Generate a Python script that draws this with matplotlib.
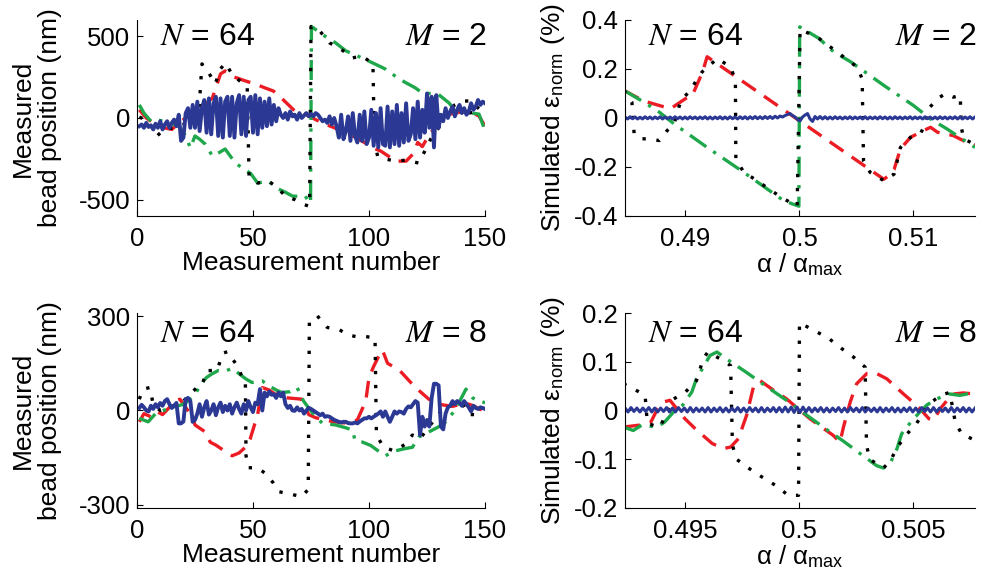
import numpy as np
import matplotlib
matplotlib.use('Agg')
import matplotlib.pyplot as plt

plt.rcParams['font.family'] = ['Liberation Sans', 'DejaVu Sans']
plt.rcParams['mathtext.fontset'] = 'stix'
plt.rcParams['axes.unicode_minus'] = False

RED = '#ec1c24'
GREEN = '#1ea84b'
BLUE = '#2b3994'

# ---------------- measured, M = 2 ----------------
meas_n = np.arange(1, 151)

red_m2_x = [1, 4, 8, 12, 15, 19, 22, 26, 30, 32.5, 36, 38, 42, 46.7, 51, 55, 58.8, 62.7, 68, 72.6,
            77, 81, 88.6, 93, 98, 101.6, 105, 108, 111.5, 116, 119, 121, 123, 126, 129, 132, 135,
            139, 143, 147.4, 150]
red_m2_y = [50, 0, -40, -61, -70, -20, 10, 30, 92, 122, 270, 288, 250, 227, 208, 185, 165, 116, 43, 24,
            -10, -37, -80, -110, -150, -183, -202, -230, -264, -264, -220, -150, -175, -100, -50, 12, 24,
            35, 43, 12, -50]

green_m2_x = [1, 3, 6, 10, 14, 18, 21, 23, 25, 27, 29.4, 32.5, 35, 38, 42.4, 45.4, 49, 52, 56.6, 61,
              64, 67, 70, 72.6, 74, 74.8, 75.2, 76, 80, 85.6, 90, 95, 101.6, 107, 113, 116, 120, 123,
              126, 129.7, 134.5, 136.6, 140, 144, 147.4, 149.6]
green_m2_y = [80, 30, -20, -15, -30, -50, -110, -183, -110, -130, -160, -233, -215, -190, -276, -306,
              -340, -398, -386, -435, -455, -478, -480, -478, -515, -520, 560, 552, 510, 460, 411, 380,
              337, 300, 239, 215, 184, 153, 150, 147, 92, 55, 40, 30, 24, -61]

black_m2_x = [1, 4.8, 8.6, 12, 16, 20, 24, 26.5, 28, 30, 33.7, 36, 38, 41.5, 45, 47.5, 48.3, 52,
              56.6, 60, 64, 68, 71, 74.4, 75, 78, 83, 88, 93, 97, 101.7, 102.3, 103.7, 107, 111.5,
              116, 121.4, 124.5, 126.6, 130, 133, 137, 140.5, 143, 144, 147.4, 150]
black_m2_y = [6, -18, -110, -67, -60, -40, -20, 0, 331, 300, 208, 300, 337, 257, 220, 196, -355, -398,
              -386, -420, -478, -500, -527, -540, 560, 546, 460, 420, 368, 380, 331, -141, -233, -251,
              -264, -258, -276, -190, -129, -60, 31, 80, 104, 104, 12, 74, 80]

blue_m2 = [-50, -40, -60, -30, -55, -45, -70, -35, -60, -20, -70, -40, -20, -60, -30, -10, -50,
           20, -140, -120, 30, 60, -60,
           80, -60, 100, -80, 60, 110, -90, 120, -100, 90, 130, -110, 120, -120, 100,
           130, -110, 130, -120, 90, 140, -100, 130, -110, 110, 130, -90, 140, -100, 120,
           -60, 100, -50, 120, -40, 80, -20, 60,
           20, 0, 30, -10, 40, 10, 20, -10, 30, 0, 15, 30, 10, 25,
           10, 30, 20, 0, -20, -10, -30, 10, -40, 0, -50,
           -120, 20, -130, -80, 10, -140, 30, -110, -150, 20, -140, 40, -160, -120, 50,
           -170, 30, -180, 60, -160, -170, 70, -180, 40, -160, 80, -170, 30, -150, 90,
           -140, -100, 60, -130, 100, -120, 50, -90, 150, -60, 130, -180, 140, -60, 20, -20,
           60, 0, 40, 70, 10, 50, 80, 30, 60, 20, 40, 90, 50, 70, 110, 80, 100, 90]

# ---------------- measured, M = 8 ----------------
red_m8_x = [1, 3, 6, 8.5, 11, 14, 16.4, 18.5, 21, 24, 25, 29.4, 31.6, 34, 36.6, 41, 44, 46.7, 48.8,
            52, 54, 57, 59.6, 65, 71, 74, 77, 84.7, 90, 95, 98.6, 100, 102, 104, 105.8, 108, 110.8,
            113.5, 118, 121, 125.8, 130, 136, 141.4, 145, 148, 150]
red_m8_y = [-36, -10, -20, -3, -13, 10, 30, 36, 10, -23, -46, -68, -101, -110, -123, -144, -135, -117,
            -90, -13, 73, 65, 52, 40, 36, -13, -23, -36, -40, -30, 30, 105, 140, 170, 192, 150, 138,
            125, 89, 67, 36, 20, 13, 24, 15, 3, 20]

green_m8_x = [1, 4.8, 8, 11, 15, 19.3, 22, 25, 28, 30, 32, 35, 38, 41, 44, 45, 47, 49.6, 52, 54, 57,
              60, 62.5, 66, 69, 71.8, 74, 77, 80, 85.6, 90, 92.8, 94, 97, 100.7, 105, 107, 111.5,
              115, 118.7, 121.5, 124, 127.4, 130, 133, 137, 141.8, 144.7, 147, 150]
green_m8_y = [-25, -36, -10, -1, 10, 18, 30, 51, 89, 105, 115, 127, 125, 134, 117, 111, 100, 89, 92,
              94, 78, 65, 57, 60, 73, 30, 8, -20, -41, -46, -55, -62, -95, -100, -111, -134, -144,
              -128, -122, -117, -84, -75, -62, -52, -36, 0, 68, 40, 30, 25]

black_m8_x = [1, 2.6, 5.6, 7, 10, 15, 20, 25.8, 28, 30, 34.5, 37, 39, 41.5, 43.7, 45, 46.7, 47, 48,
              52, 56, 58.8, 61, 65, 71, 73.8, 74.3, 77.7, 82, 87, 90.7, 94.3, 98.6, 102.6, 103.2,
              106.3, 110.7, 115.8, 118.7, 122, 126, 131, 133, 136, 140, 143, 148]
black_m8_y = [36, 68, 73, 18, 0, 13, 30, 73, 78, 127, 127, 182, 187, 160, 138, 111, 100, -144, -182,
              -182, -204, -231, -258, -264, -274, -251, 280, 301, 264, 258, 241, 235, 235, 231, -78,
              -117, -128, -107, -78, -90, -50, -3, 13, 20, 24, -13, -13]

blue_m8 = [8, 18, 10, 0, -3, 15, 5, 20, 10, 24, 15, 30, 36, 20, 8, 15, 24,
           -41, -41, -35, 36, 40, 30, -36, -30,
           -10, 20, -20, 10, 30, -13, 0, 20, -15, 10, 25, -5, 15, 0, 20, -10, 10, 25, 5, -10,
           20, 0, 30, 10, -5, 25, 20,
           68, 0, 57, 45, 60, 50, 52, 40, 57, 45, 57, 20, 8, 15, 0, -1, 10, 0,
           5, -10, 0, 8, 5, 0, -5, -10, -15, -10, -20, -18, -20, -25, -30, -33,
           -36, -38, -36, -36, -40, -41, -41, -38, -41, -35, -30, -25, -25, -20, -25, -20, -15,
           -10, -3, -20,
           -3, -20, -36, -20, -3, -10, -3, -5, -10, 5, 13, 10, 20, 30, 25,
           -78, -20, -51, -30, -51, 40, 85, 85, 80, -51, -60, -10, 10, 15, 30, 20, 30, 25, 15, 30,
           20, 10, -3, 15, 8, 5, 10, 8, 5]

# ---------------- simulated, M = 2 (alpha offsets in units of 1e-3 from 0.5) ----------------
green_s2_da = [-15.4, -13.66, -12.3, -11.0, -8.1, -4.88, -1.37, -0.05, 0.02, 1.7, 3.0, 4.5, 5.95,
               7.4, 8.7, 10.0, 11.5, 12.95, 15.4]
green_s2_y = [0.113, 0.065, 0.024, -0.024, -0.12, -0.222, -0.338, -0.36, 0.372, 0.325, 0.27, 0.229,
              0.181, 0.133, 0.092, 0.051, -0.004, -0.045, -0.12]

red_s2_da = [-15.4, -13.7, -12.3, -11.3, -10.0, -9.4, -8.5, -8.1, 7.4, 7.7, 8.3, 8.86, 9.74, 10.9,
             11.5, 12.1, 13.5, 14.7, 15.4]
red_s2_y = [0.113, 0.07, 0.051, 0.038, 0.079, 0.092, 0.188, 0.25, -0.25, -0.24, -0.21, -0.126,
            -0.079, -0.051, -0.038, -0.058, -0.072, -0.1, -0.11]

black_s2_da = [-15.4, -14.7, -14.5, -13.9, -13.4, -12.3, -11.6, -11.0, -10.4, -9.7, -8.54, -7.2,
               -6.05, -5.62, -5.58, -4.88, -3.7, -2.69, -1.37, -0.2, 0.05, 0.53, 1.7, 5.05, 5.5,
               5.62, 6.2, 7.4, 8.3, 8.86, 9.74, 10.6, 11.05, 11.2, 12.1, 12.8, 13.5, 14.1, 14.2,
               14.4, 15.3]
black_s2_y = [0.113, 0.065, -0.065, -0.085, -0.085, -0.092, -0.051, -0.024, 0.072, 0.106, 0.188,
              0.243, 0.208, 0.154, -0.167, -0.222, -0.256, -0.29, -0.33, -0.36, 0.36, 0.352, 0.325,
              0.208, 0.16, -0.175, -0.222, -0.256, -0.229, -0.12, -0.079, -0.065, -0.024, 0.031,
              0.079, 0.099, 0.085, 0.092, -0.038, -0.085, -0.106]

blue_s2 = [0.004, -0.004, 0.005, -0.003, 0.004, -0.004, 0.003, -0.004, 0.005, -0.003,
           0.004, -0.004, 0.004, -0.003, 0.005, -0.004, 0.004, -0.003, 0.004, -0.004,
           0.005, -0.003, 0.004, -0.004, 0.004, -0.004, 0.005, -0.003, 0.004, -0.004,
           0.004, -0.003, 0.005, -0.004, 0.004, -0.004, 0.004, -0.003, 0.005, -0.004,
           0.004, -0.004, 0.005, -0.003, 0.004, -0.004, 0.005, -0.003, 0.005, -0.004,
           0.005, -0.003, 0.006, -0.003, 0.005, -0.003, 0.006, -0.002, 0.006, -0.002,
           0.007, 0.000, 0.008, 0.004, 0.010, 0.014, 0.018, 0.010, 0.004, -0.006,
           -0.012, 0.004, 0.012, 0.018, -0.004, -0.014, 0.006, -0.004, 0.006, -0.004,
           0.005, -0.004, 0.004, -0.004, 0.005, -0.003, 0.004, -0.004, 0.004, -0.003,
           0.005, -0.004, 0.004, -0.003, 0.004, -0.004, 0.005, -0.004, 0.004, -0.003,
           0.004, -0.004, 0.005, -0.003, 0.004, -0.004, 0.004, -0.004, 0.005, -0.003,
           0.004, -0.004, 0.004, -0.003, 0.005, -0.004, 0.004, -0.003, 0.004, -0.004,
           0.005, -0.003, 0.004, -0.004, 0.004, -0.004, 0.005, -0.003, 0.004, -0.004,
           0.004, -0.003, 0.005, -0.004, 0.004, -0.004, 0.004, -0.003, 0.005, -0.004,
           0.004]

# ---------------- simulated, M = 8 ----------------
green_s8_da = [-7.7, -7.27, -6.9, -6.24, -5.9, -5.5, -5.1, -4.7, -4.5, -4.2, -3.9, -3.6, -3.0, -2.3,
               -1.42, -0.55, 0.41, 1.3, 1.95, 2.7, 3.4, 3.7, 4.0, 4.3, 4.5, 4.9, 5.3, 5.6, 6.05, 6.6,
               7.05, 7.4, 7.68]
green_s8_y = [-0.034, -0.041, -0.03, -0.034, -0.024, -0.003, 0.011, 0.038, 0.065, 0.089, 0.113, 0.12,
              0.1, 0.078, 0.049, 0.021, -0.012, -0.042, -0.063, -0.089, -0.113, -0.118, -0.108,
              -0.078, -0.048, -0.024, -0.003, 0.011, 0.024, 0.034, 0.031, 0.034, 0.032]

red_s8_da = [-7.7, -7.0, -6.5, -6.2, -5.9, -5.66, -5.0, -4.56, -3.8, -3.3, -3.0, -2.66, -2.3, -2.0,
             -1.7, -1.1, -0.55, 0.48, 1.5, 1.8, 1.95, 2.25, 2.53, 2.98, 3.4, 3.85, 4.58, 5.0, 5.3,
             5.7, 5.9, 6.2, 6.5, 6.8, 7.2, 7.68]
red_s8_y = [-0.034, -0.03, -0.024, 0.004, 0.018, 0.021, -0.017, -0.037, -0.068, -0.078, -0.075,
            -0.058, -0.01, 0.048, 0.061, 0.041, 0.024, -0.017, -0.051, -0.065, -0.034, 0.018, 0.055,
            0.076, 0.076, 0.065, 0.034, 0.017, 0.004, -0.017, -0.02, 0.004, 0.021, 0.034, 0.036,
            0.034]

black_s8_da = [-7.7, -7.05, -6.75, -6.65, -6.1, -5.85, -5.6, -5.0, -4.5, -4.2, -4.0, -3.46, -3.0,
               -2.92, -2.74, -2.22, -1.64, -1.05, -0.47, -0.02, 0.02, 0.63, 1.3, 1.87, 2.38, 2.9,
               2.96, 3.1, 3.7, 4.0, 4.3, 4.7, 5.15, 5.7, 6.2, 6.6, 6.75, 6.85, 7.15, 7.68]
black_s8_y = [0.055, 0.039, 0.031, -0.027, -0.034, -0.01, 0.021, 0.037, 0.061, 0.106, 0.12, 0.106,
              0.092, -0.071, -0.1, -0.118, -0.136, -0.153, -0.174, -0.174, 0.18, 0.165, 0.148, 0.127,
              0.11, 0.089, -0.071, -0.1, -0.118, -0.104, -0.076, -0.05, -0.027, 0.013, 0.031, 0.037,
              0.004, -0.024, -0.049, -0.06]

blue_s8 = [0.005, -0.003, 0.006, -0.002, 0.005, -0.003, 0.005, -0.002, 0.006, -0.003,
           0.005, -0.003, 0.005, -0.002, 0.006, -0.003, 0.005, -0.003, 0.006, -0.002,
           0.005, -0.003, 0.006, -0.003, 0.005, -0.002, 0.005, -0.003, 0.006, -0.003,
           0.005, -0.002, 0.006, -0.003, 0.005, -0.003, 0.005, -0.002, 0.006, -0.003,
           0.005, -0.003, 0.006, -0.002, 0.005, -0.003, 0.006, -0.003, 0.005, -0.002,
           0.006, -0.003, 0.006, -0.003, 0.007, -0.003, 0.007, -0.004, 0.007, -0.004,
           0.007, -0.003, 0.006, -0.003, 0.005, -0.002, 0.006, -0.003, 0.005, -0.003,
           0.005, -0.002, 0.006, -0.003, 0.005, -0.003, 0.006, -0.002, 0.005, -0.003,
           0.006, -0.003, 0.005, -0.002, 0.005, -0.003, 0.006, -0.003, 0.005, -0.002,
           0.006, -0.003, 0.005, -0.003, 0.005, -0.002, 0.006, -0.003, 0.005, -0.003,
           0.006, -0.002, 0.005, -0.003, 0.006, -0.003, 0.005, -0.002, 0.005, -0.003,
           0.006, -0.003, 0.005, -0.002, 0.006, -0.003, 0.005, -0.003, 0.005]

# axis ranges and ticks
meas_xticks = [0, 50, 100, 150]
m2_yticks = [-500, 0, 500]
m8_yticks = [-300, 0, 300]
s2_xticks = [0.49, 0.5, 0.51]
s2_xticklabels = ['0.49', '0.5', '0.51']
s2_yticks = [-0.4, -0.2, 0, 0.2, 0.4]
s2_yticklabels = ['-0.4', '-0.2', '0', '0.2', '0.4']
s8_xticks = [0.495, 0.5, 0.505]
s8_xticklabels = ['0.495', '0.5', '0.505']
s8_yticks = [-0.2, -0.1, 0, 0.1, 0.2]
s8_yticklabels = ['-0.2', '-0.1', '0', '0.1', '0.2']

FS = 18.5
LABEL_FS = 19


def draw_traces(ax, x_r, y_r, x_g, y_g, x_k, y_k, x_b, y_b, blue_lw):
    ax.plot(x_r, y_r, color=RED, lw=2.4, dashes=(5, 3))
    ax.plot(x_g, y_g, color=GREEN, lw=2.4, dashes=(6, 2.5, 1, 2.5))
    ax.plot(x_k, y_k, color='k', lw=2.4, dashes=(1, 3.2))
    ax.plot(x_b, y_b, color=BLUE, lw=blue_lw)


def style_axes(ax, n_text, m_text, text_y):
    for side in ['top', 'right']:
        ax.spines[side].set_visible(False)
    ax.tick_params(direction='in', length=4, width=0.8, labelsize=FS)
    ax.tick_params(axis='y', pad=5)
    ax.tick_params(axis='x', pad=8)
    ax.text(0.065, text_y, n_text, transform=ax.transAxes, fontsize=23, ha='left', va='baseline')
    ax.text(1.005, text_y, m_text, transform=ax.transAxes, fontsize=23, ha='right', va='baseline')


fig = plt.figure(figsize=(9.82, 5.74), dpi=100)
ax_tl = fig.add_axes([0.1395, 0.6237, 0.3544, 0.3415])
ax_tr = fig.add_axes([0.6365, 0.6237, 0.3564, 0.3415])
ax_bl = fig.add_axes([0.1395, 0.1150, 0.3544, 0.3397])
ax_br = fig.add_axes([0.6365, 0.1150, 0.3564, 0.3397])

# measured bead positions
draw_traces(ax_tl, red_m2_x, red_m2_y, green_m2_x, green_m2_y, black_m2_x, black_m2_y,
            meas_n, blue_m2, 2.8)
ax_tl.set_xlim(0, 150)
ax_tl.set_ylim(-600, 600)
ax_tl.set_xticks(meas_xticks)
ax_tl.set_yticks(m2_yticks)
style_axes(ax_tl, r'$N$ = 64', r'$M$ = 2', 0.872)

draw_traces(ax_bl, red_m8_x, red_m8_y, green_m8_x, green_m8_y, black_m8_x, black_m8_y,
            meas_n, blue_m8, 2.8)
ax_bl.set_xlim(0, 150)
ax_bl.set_ylim(-310, 310)
ax_bl.set_xticks(meas_xticks)
ax_bl.set_yticks(m8_yticks)
style_axes(ax_bl, r'$N$ = 64', r'$M$ = 8', 0.851)

for ax in (ax_tl, ax_bl):
    ax.set_xlabel('Measurement number', fontsize=LABEL_FS, labelpad=0)
    ax.set_ylabel('Measured\nbead position (nm)', fontsize=LABEL_FS, labelpad=12, linespacing=1.15)

# simulated normalised error
alpha_s2_blue = np.linspace(0.4847, 0.5154, len(blue_s2))
draw_traces(ax_tr, 0.5 + np.array(red_s2_da) * 1e-3, red_s2_y,
            0.5 + np.array(green_s2_da) * 1e-3, green_s2_y,
            0.5 + np.array(black_s2_da) * 1e-3, black_s2_y,
            alpha_s2_blue, blue_s2, 2.2)
ax_tr.set_xlim(0.4847, 0.5154)
ax_tr.set_ylim(-0.4, 0.4)
ax_tr.set_xticks(s2_xticks)
ax_tr.set_xticklabels(s2_xticklabels)
ax_tr.set_yticks(s2_yticks)
ax_tr.set_yticklabels(s2_yticklabels)
style_axes(ax_tr, r'$N$ = 64', r'$M$ = 2', 0.872)

alpha_s8_blue = np.linspace(0.49237, 0.50772, len(blue_s8))
draw_traces(ax_br, 0.5 + np.array(red_s8_da) * 1e-3, red_s8_y,
            0.5 + np.array(green_s8_da) * 1e-3, green_s8_y,
            0.5 + np.array(black_s8_da) * 1e-3, black_s8_y,
            alpha_s8_blue, blue_s8, 2.2)
ax_br.set_xlim(0.49237, 0.50772)
ax_br.set_ylim(-0.2, 0.2)
ax_br.set_xticks(s8_xticks)
ax_br.set_xticklabels(s8_xticklabels)
ax_br.set_yticks(s8_yticks)
ax_br.set_yticklabels(s8_yticklabels)
style_axes(ax_br, r'$N$ = 64', r'$M$ = 8', 0.851)

for ax in (ax_tr, ax_br):
    ax.set_xlabel(r'α / α$_\mathregular{max}$', fontsize=FS, labelpad=0)
    ax.set_ylabel(r'Simulated ε$_\mathregular{norm}$ (%)', fontsize=LABEL_FS, labelpad=5)

fig.savefig('out.png', dpi=100)
